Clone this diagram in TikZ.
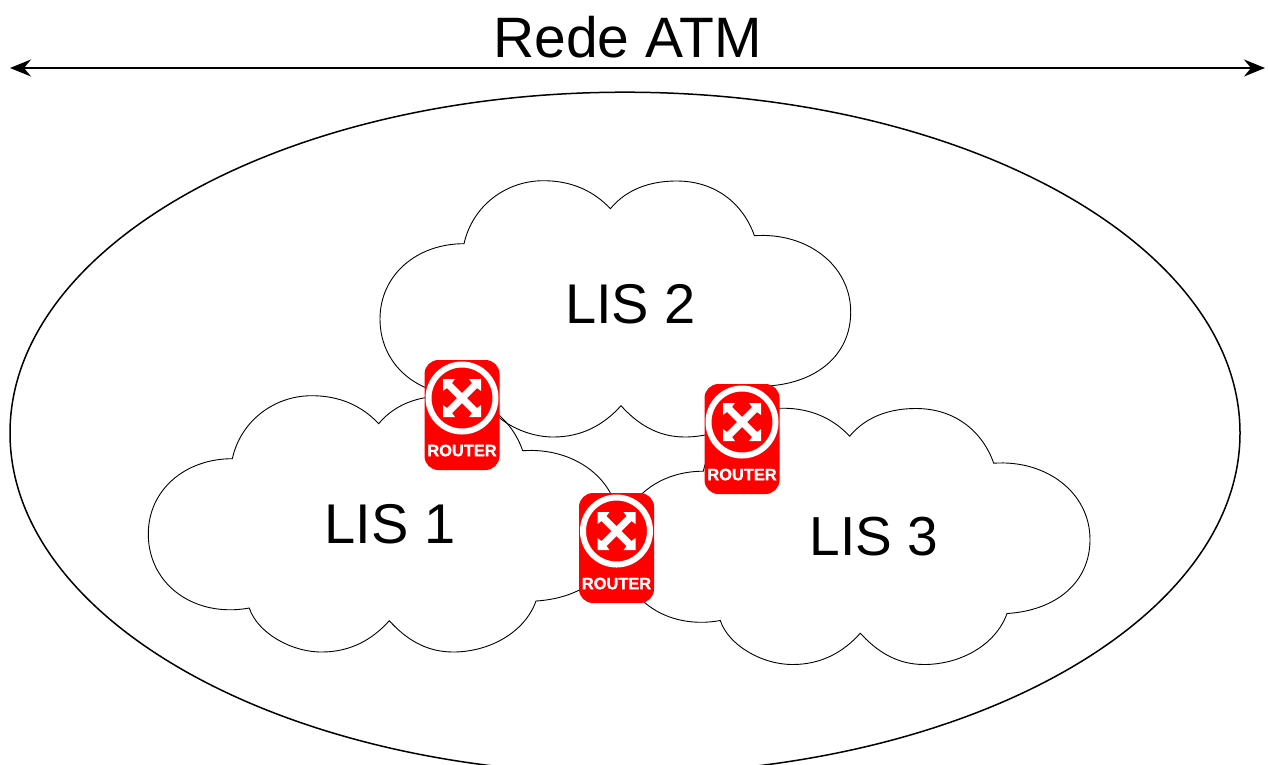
\documentclass[tikz,border=0pt]{standalone}
\usepackage{fontspec}
\setmainfont{Liberation Sans}
\newfontfamily\routerfont{Liberation Sans Bold}[FakeBold=1.4]
\usetikzlibrary{arrows.meta}
\definecolor{routerred}{RGB}{255,0,0}
\tikzset{
  x=1pt,y=-1pt,
  bigtext/.style={font=\fontsize{56}{60}\selectfont,text=black,inner sep=0pt},
  cloudline/.style={draw=black,line width=0.9pt,line join=miter},
  cloudshape/.pic={
    \draw[cloudline] (232.3,458.7)
      .. controls (241,420) and (275,395.7) .. (311.7,395.7)
      .. controls (340,395.7) and (362,406) .. (378.7,423.7)
      .. controls (390,410) and (410,396) .. (445,396)
      .. controls (485,396) and (512,420) .. (522.7,450.7)
      .. controls (575,447) and (619,480) .. (619,527)
      .. controls (619,570) and (585,598) .. (536,601)
      .. controls (525,632) and (490,652) .. (453,652)
      .. controls (425,652) and (405,638) .. (389.3,620.7)
      .. controls (372,640) and (350,652) .. (321.7,652)
      .. controls (290,652) and (257,632) .. (249.3,608)
      .. controls (195,618) and (148.3,585) .. (148.3,534)
      .. controls (148.3,490) and (185,458.7) .. cycle;
  },
  routerbody/.style={fill=routerred,draw=none,rounded corners=14pt,minimum width=75pt,minimum height=110pt,inner sep=0pt},
  routerring/.style={circle,draw=white,line width=6pt,fill=none,minimum size=67pt,inner sep=0pt},
  routerlabel/.style={text=white,inner sep=0pt,font=\routerfont\fontsize{16.4}{17}\selectfont},
  crossarm/.style={fill=white,draw=none},
  router/.pic={
    \node[routerbody] (-body) at (0,0) {};
    \node[routerring] (-ring) at (0,-17) {};
    \node[routerlabel] (-label) at (0,35.5) {ROUTER};
    \begin{scope}[shift={(0,-17)}]
      \foreach \r in {0,90,180,270}{
        \fill[crossarm,rotate=\r] (-2.5,-2.5) -- (10,-15) -- (7,-19) -- (19,-19) -- (19,-7) -- (15,-10) -- (2.5,2.5) -- cycle;
      }
    \end{scope}
  }
}
\begin{document}
\begin{tikzpicture}
\useasboundingbox (0,0) rectangle (1268,764);
\fill[white] (0,0) rectangle (1268,764);
\begin{scope}
  \clip (0,0) rectangle (1268,764);
  \draw[black,line width=1.5pt] (625,433) ellipse [x radius=615,y radius=340.8];
\end{scope}
\coordinate (arrowleft) at (10,68);
\coordinate (arrowright) at (1265,68);
\draw[black,line width=2pt,{Stealth[length=21pt,width=17pt,inset=7pt]}-{Stealth[length=21pt,width=17pt,inset=7pt]}] (arrowleft) -- (arrowright);
\node[bigtext,font=\fontsize{57}{60}\selectfont] (title) at (627.5,37.5) {Rede ATM};
\pic (cloudA) at (0,0) {cloudshape};
\pic (cloudB) at (231.7,-215) {cloudshape};
\pic (cloudC) at (471,12.5) {cloudshape};
\node[bigtext] (lisA) at (390,524.5) {LIS 1};
\node[bigtext] (lisB) at (630.5,304.5) {LIS 2};
\node[bigtext,font=\fontsize{55}{60}\selectfont] (lisC) at (874,536.5) {LIS 3};
\pic (routerA) at (462,415) {router};
\pic (routerB) at (742,439) {router};
\pic (routerC) at (616.5,548) {router};
\end{tikzpicture}
\end{document}
